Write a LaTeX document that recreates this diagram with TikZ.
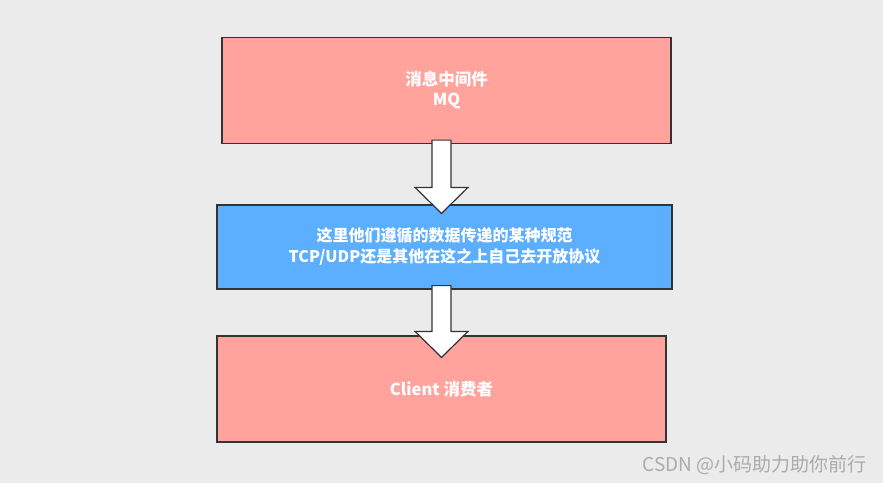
\documentclass[tikz,border=0pt]{standalone}
\usepackage{fontspec}
\usepackage{tikz}
\usetikzlibrary{calc}
\newfontfamily\cjk{Noto Sans CJK SC}
\definecolor{boxpink}{HTML}{FFA39C}
\definecolor{boxblue}{HTML}{5CAEFF}
\definecolor{bggray}{HTML}{EBEBEB}
\definecolor{markgray}{HTML}{ABABAB}
\begin{document}
\begin{tikzpicture}[x=1pt,y=-1pt]
	\fill[bggray] (0,0) rectangle (883,483);
	\useasboundingbox (0,0) rectangle (883,483);
	\begin{scope}[every node/.style={draw=black!80,line width=1.2pt,text=white,align=center,
				font=\cjk\bfseries\fontsize{16.5}{20}\selectfont}]
		% layer 0: broker
		\node[fill=boxpink,minimum width=449pt,minimum height=106pt] (mq) at (446.5,90.5) {消息中间件\\MQ};
		% layer 1: protocol
		\node[fill=boxblue,minimum width=455pt,minimum height=84pt,
			font=\cjk\bfseries\fontsize{16}{21}\selectfont] (proto) at (444.5,247) {这里他们遵循的数据传递的某种规范\\TCP/UDP还是其他在这之上自己去开放协议};
		% layer 2: consumer
		\node[fill=boxpink,minimum width=449pt,minimum height=106pt] (client) at (441.5,389) {Client 消费者};
	\end{scope}

	\coordinate (ax) at (441.5,0);
	\begin{scope}[every path/.style={fill=white,draw=black!80,line width=1.2pt,line join=miter}]
		\foreach \a/\b/\d in {mq/proto/9,proto/client/22}{
			\coordinate (top) at ($(\a.south -| ax)+(0,-4)$);
			\coordinate (tip) at ($(\b.north -| ax)+(0,\d)$);
			\path ($(top)+(-9.5,0)$) -- ($(tip)+(-9.5,-26)$) -- ($(tip)+(-26.5,-26)$) -- (tip)
				-- ($(tip)+(26.5,-26)$) -- ($(tip)+(9.5,-26)$) -- ($(top)+(9.5,0)$) -- cycle;
		}
	\end{scope}

	\node[anchor=east,text=markgray,font=\cjk\fontsize{19}{22}\selectfont,inner sep=0pt] (mark) at (867,465) {CSDN @小码助力助你前行};
\end{tikzpicture}
\end{document}
